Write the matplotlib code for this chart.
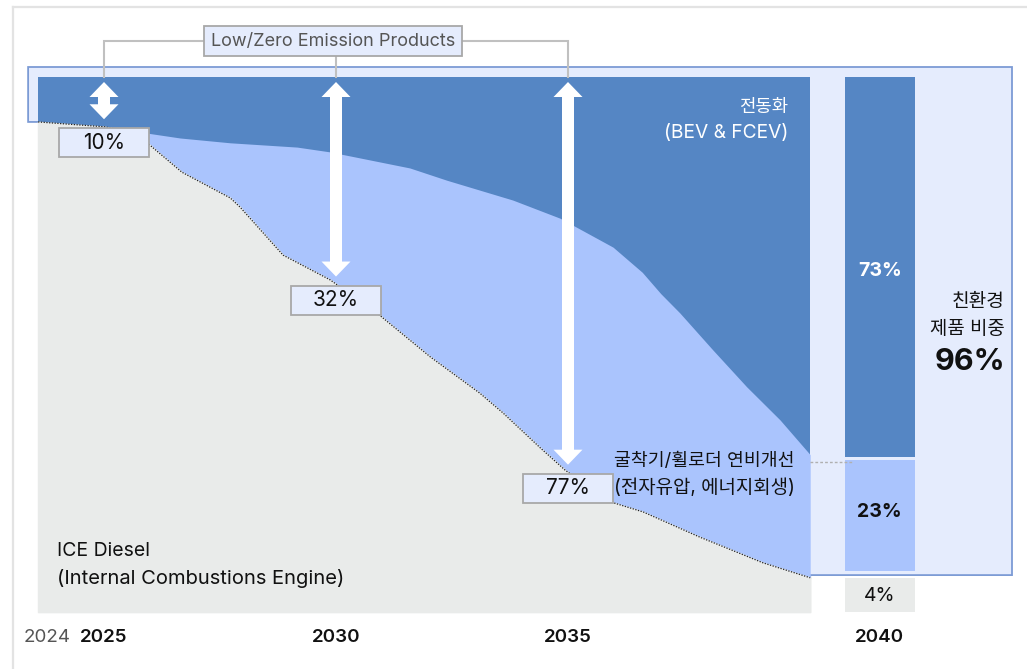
import numpy as np
import matplotlib
matplotlib.use('Agg')
import matplotlib.pyplot as plt
from matplotlib.patches import Rectangle, Polygon
from matplotlib.lines import Line2D

plt.rcParams['font.family'] = ['Inter', 'Noto Sans CJK KR', 'DejaVu Sans']

# ---------------- data ----------------
# top edge of the ICE Diesel share (%), dotted boundary
ice_years = [2023.58, 2025.00, 2025.63, 2025.93, 2026.68, 2027.72, 2027.93, 2028.86,
             2029.87, 2030.88, 2032.03, 2033.10, 2033.60, 2034.40, 2034.94, 2035.91,
             2036.62, 2037.84, 2039.20, 2040.22]
ice_share = [91.6, 90.7, 89.7, 87.7, 82.2, 77.4, 75.7, 66.7,
             62.1, 55.9, 47.7, 40.9, 37.2, 30.7, 26.5, 20.6,
             18.7, 14.0, 9.2, 6.4]
# ICE + efficiency improvement (top edge of light-blue band)
eff_years = [2023.58, 2025.63, 2026.64, 2027.72, 2029.16, 2029.87, 2031.59, 2032.39,
             2033.81, 2034.83, 2035.97, 2036.60, 2037.00, 2037.41, 2038.12, 2038.85,
             2039.57, 2040.22]
eff_top = [91.6, 89.9, 88.6, 87.7, 86.9, 86.0, 83.0, 80.7,
           77.0, 73.6, 68.2, 63.5, 59.5, 55.9, 49.0, 42.1,
           35.9, 29.4]

milestone_years = [2025, 2030, 2035]
low_zero_labels = ['10%', '32%', '77%']

tick_years = [2023.77, 2025, 2030, 2035, 2041.72]
tick_labels = ['2024', '2025', '2030', '2035', '2040']

bar_year = 2041.72
bar_labels = ['4%', '23%', '73%']
bar_heights = [6.3, 20.7, 71.1]      # drawn heights (gray, light, dark)

# ---------------- colours ----------------
DARK = '#5586C4'
LIGHT = '#AAC4FD'
GRAY = '#E9EBEA'
LAV = '#E5ECFD'
LAV_EDGE = '#7C9BD5'
BOX_EDGE = '#A8A8A8'
BRACKET = '#C0C0C0'

# ---------------- figure / axes ----------------
W, H = 1027, 669
fig = plt.figure(figsize=(W / 100, H / 100), dpi=100)
ax = fig.add_axes([0, 0, 1, 1])
ax.set_axis_off()

PX_PER_YEAR = 46.4
PX_PER_PCT = 5.35
X0, Y0 = 104, 612   # pixel of year 2025 / 0%
ax.set_xlim(2025 - X0 / PX_PER_YEAR, 2025 + (W - X0) / PX_PER_YEAR)
ax.set_ylim((Y0 - H) / PX_PER_PCT, Y0 / PX_PER_PCT)


def dx(px):
    return px / PX_PER_YEAR


def dy(px):
    return px / PX_PER_PCT


x_start, x_end = ice_years[0], ice_years[-1]

# outer light frame
fig.add_artist(Line2D([13 / W, 13 / W], [0, 1 - 7 / H], color='#E3E3E3', lw=1.6))
fig.add_artist(Line2D([13 / W, 1], [1 - 7 / H, 1 - 7 / H], color='#E3E3E3', lw=1.6))

# lavender "low/zero emission" box behind
box_left = x_start - dx(10)
box_right = 2025 + dx(1012 - X0)
box_top = 100 + dy(10)
box_bottom = 6.9
verts = [(box_left, box_top), (box_right, box_top), (box_right, box_bottom),
         (x_end, box_bottom)]
verts += list(zip(ice_years[::-1], ice_share[::-1]))
verts += [(box_left, ice_share[0])]
ax.add_patch(Polygon(verts, closed=True, facecolor=LAV, edgecolor=LAV_EDGE,
                     lw=1.3, zorder=1))

# stacked areas
ax.fill_between([x_start, x_end], 0, 100, color=DARK, lw=0, zorder=2)
ax.fill_between(eff_years, 0, eff_top, color=LIGHT, lw=0, zorder=3)
ax.fill_between(ice_years, 0, ice_share, facecolor=GRAY, edgecolor=GRAY, lw=1.2, zorder=4)
ax.plot(ice_years, ice_share, color='#222222', lw=0.9, ls=(0, (1, 1.2)), zorder=5)

# 2040 bar
bw = dx(70)
ax.bar(bar_year, bar_heights[0], width=bw, bottom=0, color=GRAY, lw=0, zorder=3)
light_bottom = bar_heights[0] + 1.4
ax.bar(bar_year, bar_heights[1], width=bw, bottom=light_bottom, color=LIGHT, lw=0, zorder=3)
dark_bottom = light_bottom + bar_heights[1] + 0.5
ax.bar(bar_year, 100 - dark_bottom, width=bw, bottom=dark_bottom, color=DARK, lw=0, zorder=3)
ax.text(bar_year, dark_bottom + (100 - dark_bottom) * 0.49, bar_labels[2], ha='center', va='center',
        color='white', fontsize=14, fontweight='bold', zorder=6)
ax.text(bar_year, light_bottom + bar_heights[1] * 0.53, bar_labels[1], ha='center', va='center',
        color='#111111', fontsize=14, fontweight='bold', zorder=6)
ax.text(bar_year, bar_heights[0] * 0.5 - 0.2, bar_labels[0], ha='center', va='center',
        color='#111111', fontsize=14, zorder=6)

# dotted connector from area end to bar split
ax.plot([x_end, bar_year - bw / 2 + dx(8)], [eff_top[-1] - 1.3] * 2, color='#B0B0B0',
        lw=1.0, ls=(0, (2, 1.5)), zorder=6)

# arrows
SW, HW, HL = dx(6), dx(14.5), dy(15)


def double_arrow(x, ylo, yhi):
    pts = [(x - SW, ylo + HL), (x - HW, ylo + HL), (x, ylo), (x + HW, ylo + HL),
           (x + SW, ylo + HL), (x + SW, yhi - HL), (x + HW, yhi - HL), (x, yhi),
           (x - HW, yhi - HL), (x - SW, yhi - HL)]
    ax.add_patch(Polygon(pts, closed=True, facecolor='white', edgecolor='none', zorder=7))


arrow_top = 100 - dy(5)
for yr, lab in zip(milestone_years, low_zero_labels):
    g = float(np.interp(yr, ice_years, ice_share))
    double_arrow(yr, g + 1.4, arrow_top)
    bc = g - 3.0
    ax.add_patch(Rectangle((yr - dx(45), bc - dy(14.5)), dx(90), dy(29), facecolor=LAV,
                           edgecolor=BOX_EDGE, lw=1.3, zorder=8))
    ax.text(yr, bc, lab, ha='center', va='center', fontsize=15, color='#111111', zorder=9)

# bracket + "Low/Zero Emission Products"
by = dy(Y0 - 41)
ax.plot([milestone_years[0], milestone_years[0], milestone_years[2], milestone_years[2]],
        [100, by, by, 100], color=BRACKET, lw=1.5, zorder=6, solid_joinstyle='miter')
ax.plot([milestone_years[1]] * 2, [by, 100], color=BRACKET, lw=1.5, zorder=6)
lx = 2025 + dx(333 - X0)
ax.text(lx, by, 'Low/Zero Emission Products', ha='center', va='center', fontsize=13,
        color='#555555', zorder=9,
        bbox=dict(boxstyle='square,pad=0.36', facecolor=LAV, edgecolor=BOX_EDGE, lw=1.3))

# area annotations
rx = 2025 + dx(788 - X0)
ax.text(rx, dy(Y0 - 107), '전동화', ha='right', va='center', fontsize=12.8, color='white', zorder=9)
ax.text(rx, dy(Y0 - 133), '(BEV & FCEV)', ha='right', va='center', fontsize=13.8, color='white', zorder=9)
rx2 = 2025 + dx(795 - X0)
ax.text(rx2, dy(Y0 - 461), '굴착기/휠로더 연비개선', ha='right', va='center', fontsize=13.2,
        color='#111111', zorder=9)
ax.text(rx2, dy(Y0 - 488), '(전자유압, 에너지회생)', ha='right', va='center', fontsize=13.6,
        color='#111111', zorder=9)
lx2 = 2025 + dx(57 - X0)
ax.text(lx2, dy(Y0 - 551), 'ICE Diesel', ha='left', va='center', fontsize=14,
        color='#111111', zorder=9)
ax.text(lx2, dy(Y0 - 578), '(Internal Combustions Engine)', ha='left', va='center',
        fontsize=14.5, color='#111111', zorder=9)

# side summary
sx = 2025 + dx(1005 - X0)
ax.text(sx, dy(Y0 - 302), '친환경', ha='right', va='center', fontsize=13.8, color='#111111', zorder=9)
ax.text(sx, dy(Y0 - 329), '제품 비중', ha='right', va='center', fontsize=13.6, color='#111111', zorder=9)
ax.text(sx, dy(Y0 - 362), '96%', ha='right', va='center', fontsize=22, fontweight='bold',
        color='#111111', zorder=9)

# x tick labels
ty = dy(Y0 - 638)
for i, (tx, tl) in enumerate(zip(tick_years, tick_labels)):
    if i == 0:
        ax.text(tx, ty, tl, ha='center', va='center', fontsize=13.5, color='#555555')
    else:
        ax.text(tx, ty, tl, ha='center', va='center', fontsize=13.5, color='#111111',
                fontweight='semibold')

fig.savefig('out.png', dpi=100)
